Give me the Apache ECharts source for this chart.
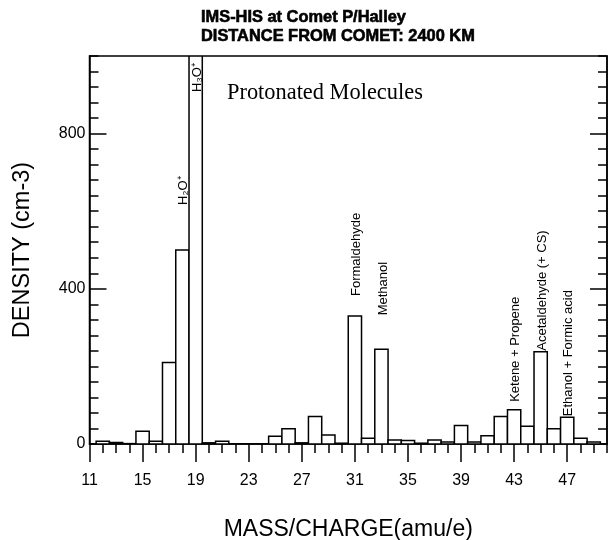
<!DOCTYPE html>
<html>
<head>
<meta charset="utf-8">
<script src="https://cdn.jsdelivr.net/npm/echarts@6/dist/echarts.min.js"></script>
<style>
  html, body { margin: 0; padding: 0; background: #fff; }
  #chart { width: 608px; height: 540px; }
</style>
</head>
<body>
<div id="chart"></div>
<script>
// Ion densities per mass/charge channel (amu/e)
const masses = [12, 13, 14, 15, 16, 17, 18, 19, 20, 21, 22, 23, 24, 25, 26, 27, 28, 29, 30,
                31, 32, 33, 34, 35, 36, 37, 38, 39, 40, 41, 42, 43, 44, 45, 46, 47, 48, 49];
const densities = [7, 4, 1, 33, 7, 210, 500, 1000, 3, 7, 0, 0, 0, 20, 39, 3, 71, 23, 2,
                   330, 15, 244, 10, 9, 2, 10, 5, 48, 5, 21, 71, 88, 46, 238, 39, 69, 15, 5];

// Species identified above their peaks
const speciesMass = [18, 19, 31, 33, 43, 45, 47];
const speciesName = ['H\u2082O\u207A', 'H\u2083O\u207A', 'Formaldehyde', 'Methanol',
                     'Ketene + Propene', 'Acetaldehyde (+ CS)', 'Ethanol + Formic acid'];

// Axis tick values
const xMajorTicks = [11, 15, 19, 23, 27, 31, 35, 39, 43, 47];
const yMajorTicks = [0, 400, 800];

// Pixel gap between each bar top and the bottom of its label (negative = inside the bar)
const labelGap = [45, -36, 20, 34, 8, 1, 1];

const X_MIN = 11, X_MAX = 50, Y_MIN = 0, Y_MAX = 1000;
const INK = '#000';
const LW = 1.5;
const SANS = '"Liberation Sans", Arial, sans-serif';

const chart = echarts.init(document.getElementById('chart'), null, { renderer: 'canvas' });

const barData = masses.map((m, i) => [m, densities[i]]);
const labelData = speciesMass.map((m, i) => [m, densities[masses.indexOf(m)], i]);

const baseX = { type: 'value', min: X_MIN, max: X_MAX, position: 'bottom', splitLine: { show: false } };
const baseY = { type: 'value', min: Y_MIN, max: Y_MAX, splitLine: { show: false } };

chart.setOption({
  animation: false,
  backgroundColor: '#fff',
  title: [
    {
      text: 'IMS-HIS at Comet P/Halley\nDISTANCE FROM COMET: 2400 KM',
      left: 196, top: 3,
      textStyle: {
        fontFamily: SANS, fontWeight: 'bold', fontSize: 16.4, lineHeight: 19, color: INK,
        textBorderColor: INK, textBorderWidth: 0.6
      }
    },
    {
      text: 'Protonated Molecules',
      left: 222, top: 77,
      textStyle: { fontFamily: '"Liberation Serif", "Times New Roman", serif', fontWeight: 'normal', fontSize: 22.4, color: INK }
    }
  ],
  grid: {
    left: 89.5, right: 1, top: 56, bottom: 96,
    outerBoundsMode: 'none',
    containLabel: false,
    show: true, borderColor: INK, borderWidth: LW, backgroundColor: 'transparent'
  },
  xAxis: [
    Object.assign({}, baseX, {
      interval: 1,
      name: 'MASS/CHARGE(amu/e)', nameLocation: 'middle', nameGap: 74,
      nameTextStyle: { fontFamily: SANS, fontSize: 23, color: INK },
      axisLine: { show: true, lineStyle: { color: INK, width: LW } },
      axisTick: { show: true, inside: false, length: 9, lineStyle: { color: INK, width: LW } },
      axisLabel: { show: false }
    }),
    Object.assign({}, baseX, {
      axisLine: { show: false },
      axisTick: { show: true, inside: false, length: 18, customValues: xMajorTicks, lineStyle: { color: INK, width: LW } },
      axisLabel: {
        show: true, customValues: xMajorTicks, margin: 29,
        fontFamily: SANS, fontSize: 16, color: INK
      }
    })
  ],
  yAxis: [
    Object.assign({}, baseY, {
      position: 'left',
      name: 'DENSITY (cm-3)', nameLocation: 'middle', nameGap: 55,
      nameTextStyle: { fontFamily: SANS, fontSize: 23.5, color: INK },
      axisLine: { show: true, lineStyle: { color: INK, width: LW } },
      axisTick: { show: true, inside: true, length: 17, customValues: yMajorTicks, lineStyle: { color: INK, width: LW } },
      axisLabel: {
        show: true, customValues: yMajorTicks, margin: 4,
        fontFamily: SANS, fontSize: 16, color: INK
      }
    }),
    Object.assign({}, baseY, {
      position: 'left', interval: 40,
      axisLine: { show: false },
      axisTick: { show: true, inside: true, length: 9, lineStyle: { color: INK, width: LW } },
      axisLabel: { show: false }
    }),
    Object.assign({}, baseY, {
      position: 'right', interval: 40,
      axisLine: { show: true, lineStyle: { color: INK, width: LW } },
      axisTick: { show: true, inside: true, length: 9, lineStyle: { color: INK, width: LW } },
      axisLabel: { show: false }
    }),
    Object.assign({}, baseY, {
      position: 'right',
      axisLine: { show: false },
      axisTick: { show: true, inside: true, length: 17, customValues: yMajorTicks, lineStyle: { color: INK, width: LW } },
      axisLabel: { show: false }
    })
  ],
  series: [
    {
      type: 'custom',
      name: 'density',
      xAxisIndex: 0, yAxisIndex: 0,
      clip: true,
      data: barData,
      encode: { x: 0, y: 1 },
      renderItem: function (params, api) {
        const m = api.value(0), v = api.value(1);
        const lo = api.coord([m - 0.5, 0]);
        const hi = api.coord([m + 0.5, v]);
        return {
          type: 'rect',
          shape: { x: lo[0], y: hi[1], width: hi[0] - lo[0], height: lo[1] - hi[1] },
          style: { fill: '#fff', stroke: INK, lineWidth: LW }
        };
      },
      z: 2
    },
    {
      type: 'custom',
      name: 'species',
      xAxisIndex: 0, yAxisIndex: 0,
      clip: false,
      data: labelData,
      encode: { x: 0, y: 1 },
      renderItem: function (params, api) {
        const m = api.value(0), v = Math.min(api.value(1), Y_MAX);
        const k = api.value(2);
        const p = api.coord([m, v]);
        return {
          type: 'text',
          x: p[0] + 1.5,
          y: p[1] - labelGap[k],
          rotation: Math.PI / 2,
          style: {
            text: speciesName[k],
            fill: INK,
            font: '13px ' + SANS,
            align: 'left',
            verticalAlign: 'middle'
          }
        };
      },
      z: 3
    }
  ]
});
</script>
</body>
</html>
